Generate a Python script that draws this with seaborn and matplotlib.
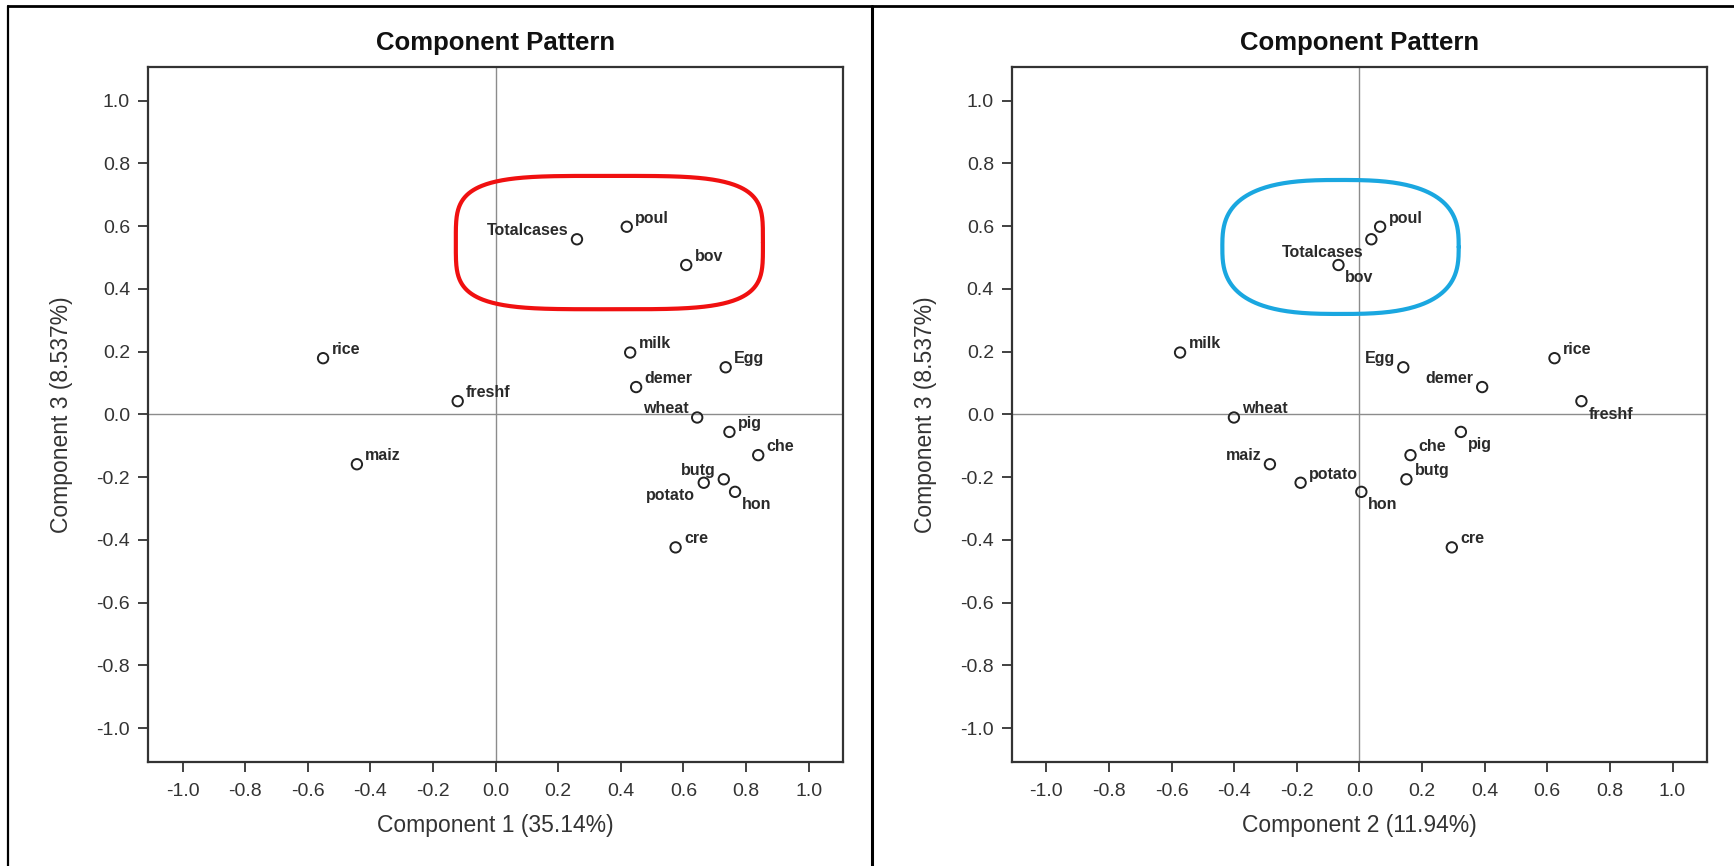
import numpy as np
import pandas as pd
import seaborn as sns
import matplotlib.pyplot as plt
from matplotlib.lines import Line2D

# component loadings
variables = ['Totalcases', 'poul', 'bov', 'milk', 'Egg', 'demer', 'freshf', 'rice',
             'maiz', 'wheat', 'pig', 'che', 'butg', 'potato', 'hon', 'cre']
comp1 = [0.260, 0.419, 0.609, 0.430, 0.735, 0.449, -0.121, -0.551,
         -0.443, 0.644, 0.747, 0.839, 0.729, 0.665, 0.765, 0.575]
comp2 = [0.038, 0.066, -0.067, -0.573, 0.140, 0.392, 0.709, 0.623,
         -0.286, -0.401, 0.324, 0.163, 0.150, -0.188, 0.006, 0.295]
comp3 = [0.558, 0.598, 0.476, 0.197, 0.150, 0.087, 0.042, 0.179,
         -0.159, -0.010, -0.056, -0.130, -0.207, -0.218, -0.247, -0.424]

x_titles = ['Component 1 (35.14%)', 'Component 2 (11.94%)']
y_title = 'Component 3 (8.537%)'
plot_title = 'Component Pattern'
tick_values = [-1.0, -0.8, -0.6, -0.4, -0.2, 0.0, 0.2, 0.4, 0.6, 0.8, 1.0]
circled = ['Totalcases', 'poul', 'bov']

df = pd.DataFrame({'var': variables, 'c1': comp1, 'c2': comp2, 'c3': comp3})

# label placement (upper/lower, left/right of the marker), default upper right
offsets = {'ur': (6, 3, 'left'), 'ul': (-6, 3, 'right'),
           'lr': (5, -12.5, 'left'), 'll': (-6, -12.5, 'right')}
place_left = {'Totalcases': 'ul', 'wheat': 'ul', 'butg': 'ul', 'potato': 'll', 'hon': 'lr'}
place_right = {'Totalcases': 'll', 'bov': 'lr', 'freshf': 'lr', 'pig': 'lr', 'hon': 'lr',
               'Egg': 'ul', 'demer': 'ul', 'maiz': 'ul'}

# hand drawn loop: padding around the circled group (left, right, bottom, top), exponent, colour
loop_left = ((0.387, 0.245, 0.141, 0.162), 4.0, '#f01010')
loop_right = ((0.371, 0.251, 0.156, 0.149), 2.8, '#1aa7e0')

sns.set_theme(style='white')
plt.rcParams['font.family'] = ['Liberation Sans', 'DejaVu Sans']

fig = plt.figure(figsize=(17.34, 8.66), dpi=100)
axes = [fig.add_axes([0.0854, 0.1201, 0.4008, 0.8025]),
        fig.add_axes([0.5836, 0.1201, 0.4008, 0.8025])]

panels = [('c1', x_titles[0], place_left, loop_left),
          ('c2', x_titles[1], place_right, loop_right)]

for ax, (col, xt, place, loop) in zip(axes, panels):
    ax.axhline(0, color='#8c8c8c', lw=1.0, zorder=1)
    ax.axvline(0, color='#8c8c8c', lw=1.0, zorder=1)
    sns.scatterplot(data=df, x=col, y='c3', ax=ax, s=56, facecolor='none',
                    edgecolor='#222222', linewidth=1.4, zorder=3)
    for _, r in df.iterrows():
        dx, dy, ha = offsets[place.get(r['var'], 'ur')]
        ax.annotate(r['var'], (r[col], r['c3']), xytext=(dx, dy),
                    textcoords='offset points', ha=ha, va='baseline',
                    fontsize=11.5, fontweight='bold', color='#2a2a2a', zorder=4)

    # loop around the circled group
    grp = df[df['var'].isin(circled)]
    (pl, pr, pb, pt), n, lc = loop
    x0, x1 = grp[col].min() - pl, grp[col].max() + pr
    y0, y1 = grp['c3'].min() - pb, grp['c3'].max() + pt
    t = np.linspace(0, 2 * np.pi, 400)
    ex = np.sign(np.cos(t)) * np.abs(np.cos(t)) ** (2 / n)
    ey = np.sign(np.sin(t)) * np.abs(np.sin(t)) ** (2 / n)
    ax.plot((x0 + x1) / 2 + (x1 - x0) / 2 * ex, (y0 + y1) / 2 + (y1 - y0) / 2 * ey,
            color=lc, lw=3.0, solid_capstyle='round', zorder=5)

    ax.set_xlim(-1.11, 1.11)
    ax.set_ylim(-1.108, 1.107)
    ax.set_xticks(tick_values)
    ax.set_yticks(tick_values)
    ax.set_xticklabels([f'{v:.1f}' for v in tick_values])
    ax.set_yticklabels([f'{v:.1f}' for v in tick_values])
    ax.tick_params(axis='both', direction='out', length=7, width=1.3, color='#333333',
                   labelsize=14, labelcolor='#333333', pad=6, bottom=True, left=True)
    ax.tick_params(axis='x', pad=8)
    for sp in ax.spines.values():
        sp.set_visible(True)
        sp.set_color('#333333')
        sp.set_linewidth(1.6)
    ax.set_xlabel(xt, fontsize=16.5, color='#333333', labelpad=10)
    ax.set_ylabel(y_title, fontsize=16.5, color='#333333', labelpad=17)
    ax.set_title(plot_title, fontsize=18.5, fontweight='bold', color='#111111', pad=12)

# outer frame of the two panels
fig.add_artist(Line2D([0.0046, 0.0046], [0, 0.993], color='black', lw=1.6,
                      transform=fig.transFigure))
fig.add_artist(Line2D([0.0046, 1.0], [0.993, 0.993], color='black', lw=2.0,
                      transform=fig.transFigure))
fig.add_artist(Line2D([0.503, 0.503], [0, 0.993], color='black', lw=2.2,
                      transform=fig.transFigure))

fig.savefig('out.png', dpi=100)
